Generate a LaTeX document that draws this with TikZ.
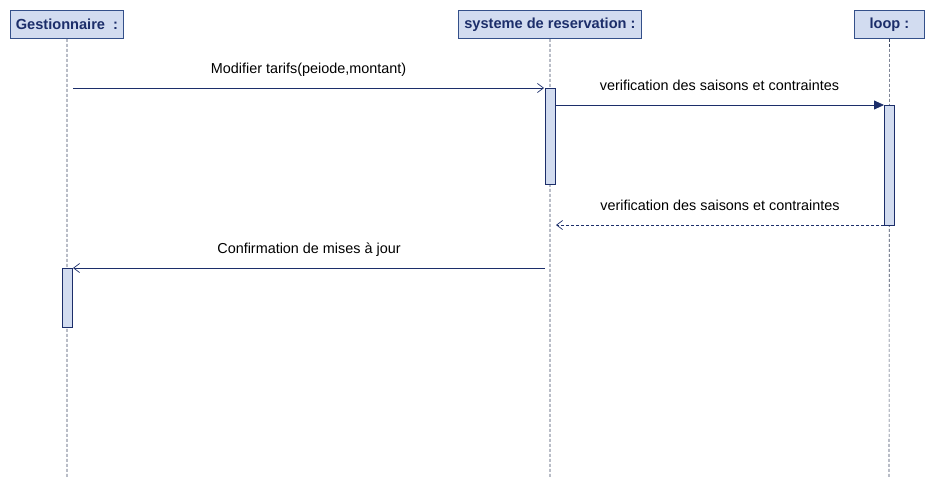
\documentclass[tikz,border=0pt]{standalone}
\usepackage{fontspec}
\setmainfont{Liberation Sans}
\usetikzlibrary{arrows.meta}
\definecolor{boxfill}{HTML}{D2DCF0}
\definecolor{boxline}{HTML}{34508A}
\definecolor{navy}{HTML}{1C2E6A}
\definecolor{lifec}{HTML}{3A4560}
\begin{document}
\begin{tikzpicture}[x=1pt,y=-1pt,
  head/.style={draw=boxline,fill=boxfill,line width=0.9pt,minimum height=28pt,inner sep=2pt,font=\fontsize{14.6}{16}\selectfont\bfseries,text=navy,anchor=north west},
  life/.style={draw=lifec,dashed,dash pattern=on 3pt off 2pt,line width=0.6pt},
  act/.style={draw=navy,fill=boxfill,line width=0.8pt},
  msg/.style={draw=navy,line width=0.8pt},
  lbl/.style={font=\fontsize{14.4}{16}\selectfont,text=black,anchor=base,yshift=15pt},
  open/.style={-{Straight Barb[length=6pt,width=9pt,line width=0.7pt]}},
  filled/.style={-{Triangle[length=10pt,width=9pt]}}]
\useasboundingbox (0,0) rectangle (935,488);
% headers
\node[head,minimum width=113pt] (g) at (10,10) {Gestionnaire\ \ :};
\node[head,minimum width=183pt] (s) at (458,10) {systeme de reservation :};
\node[head,minimum width=70pt] (l) at (854,10) {loop :};
% lifeline ends
\coordinate (ge) at (67,478);
\coordinate (se) at (550,478);
\coordinate (le) at (889,478);
\draw[life] (g.south) -- (ge);
\draw[life] (s.south) -- (se);
\draw[life] (l.south) -- (le);
% activations
\draw[act] (545,88) rectangle (555,184);
\draw[act] (884,105) rectangle (894,225);
\draw[act] (62,268) rectangle (72,327);
\coordinate (m1s) at (73,88);
\coordinate (m1e) at (544,88);
\coordinate (m2s) at (555,105);
\coordinate (m2e) at (884,105);
\coordinate (m3s) at (884,225);
\coordinate (m3e) at (556,225);
\coordinate (m4s) at (545,268);
\coordinate (m4e) at (73,268);
\draw[msg,open] (m1s) -- (m1e) node[lbl,midway] {Modifier tarifs(peiode,montant)};
\draw[msg,filled] (m2s) -- (m2e) node[lbl,midway] {verification des saisons et contraintes};
\draw[msg,open,dashed,dash pattern=on 3pt off 2pt] (m3s) -- (m3e) node[lbl,midway] {verification des saisons et contraintes};
\draw[msg,open] (m4s) -- (m4e) node[lbl,midway] {Confirmation de mises à jour};
\end{tikzpicture}
\end{document}
